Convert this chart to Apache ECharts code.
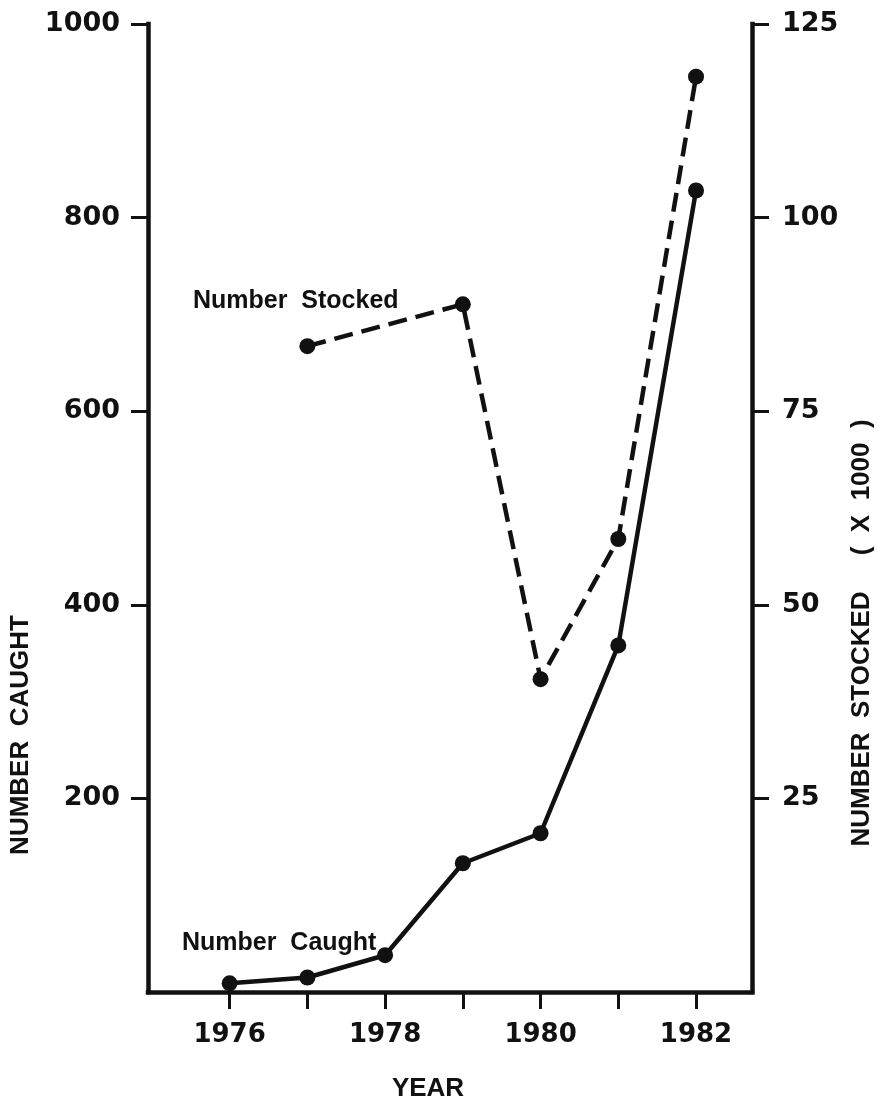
<!DOCTYPE html>
<html>
<head>
<meta charset="utf-8">
<title>Number Caught and Number Stocked, 1976-1982</title>
<script src="https://cdn.jsdelivr.net/npm/echarts@6/dist/echarts.min.js"></script>
<style>
  html, body { margin: 0; padding: 0; background: #ffffff; }
  #chart { width: 878px; height: 1104px; }
</style>
</head>
<body>
<div id="chart"></div>
<script>
// Fish caught per year (left axis)
const caughtYears = [1976, 1977, 1978, 1979, 1980, 1981, 1982];
const caught = [9, 15, 38, 133, 164, 358, 828];

// Fish stocked per year, in thousands (right axis)
const stockedYears = [1977, 1979, 1980, 1981, 1982];
const stocked = [83.4, 88.8, 40.4, 58.5, 118.2];

// Axis ticks and labels
const yearTicks = [1976, 1977, 1978, 1979, 1980, 1981, 1982];
const yearLabels = [1976, 1978, 1980, 1982];
const caughtTicks = [200, 400, 600, 800, 1000];
const stockedTicks = [25, 50, 75, 100, 125];

const INK = '#111111';
const labelFont = 'DejaVu Sans';
const titleFont = 'Liberation Sans';

const chart = echarts.init(document.getElementById('chart'), null, { renderer: 'canvas' });

const axisLine = { show: true, lineStyle: { color: INK, width: 4.5, cap: 'square' } };
const axisTick = (vals) => ({
  show: true, inside: false, length: 17, customValues: vals,
  lineStyle: { color: INK, width: 3 }
});
const plain = (v) => String(v);

chart.setOption({
  backgroundColor: '#ffffff',
  animation: false,
  grid: {
    left: 148, right: 126, top: 24, bottom: 112,
    containLabel: false,
    outerBoundsMode: 'none'
  },
  xAxis: {
    type: 'value',
    min: 1974.95,
    max: 1982.72,
    axisLine: axisLine,
    axisTick: axisTick(yearTicks),
    splitLine: { show: false },
    axisLabel: {
      customValues: yearLabels,
      margin: 30,
      color: INK,
      fontFamily: labelFont,
      fontWeight: 'bold',
      fontSize: 26,
      formatter: plain
    },
    name: 'YEAR',
    nameLocation: 'middle',
    nameGap: 84,
    nameTextStyle: {
      color: INK, fontFamily: titleFont, fontWeight: 'bold', fontSize: 26,
      padding: [0, 44, 0, 0]
    }
  },
  yAxis: [
    {
      type: 'value',
      position: 'left',
      min: 0,
      max: 1000,
      interval: 200,
      axisLine: axisLine,
      axisTick: axisTick(caughtTicks),
      splitLine: { show: false },
      axisLabel: {
        customValues: caughtTicks,
        margin: 28,
        color: INK,
        fontFamily: labelFont,
        fontWeight: 'bold',
        fontSize: 27,
        formatter: plain
      },
      name: 'NUMBER  CAUGHT',
      nameLocation: 'middle',
      nameGap: 110,
      nameTextStyle: {
        color: INK, fontFamily: titleFont, fontWeight: 'bold', fontSize: 26,
        padding: [0, 454, 0, 0]
      }
    },
    {
      type: 'value',
      position: 'right',
      min: 0,
      max: 125,
      interval: 25,
      axisLine: axisLine,
      axisTick: axisTick(stockedTicks),
      splitLine: { show: false },
      axisLabel: {
        customValues: stockedTicks,
        margin: 30,
        color: INK,
        fontFamily: labelFont,
        fontWeight: 'bold',
        fontSize: 27,
        formatter: plain
      },
      name: 'NUMBER  STOCKED     (  X  1000  )',
      nameLocation: 'middle',
      nameGap: 92,
      nameTextStyle: {
        color: INK, fontFamily: titleFont, fontWeight: 'bold', fontSize: 26,
        padding: [0, 250, 0, 0]
      }
    }
  ],
  series: [
    {
      name: 'Number Caught',
      type: 'line',
      yAxisIndex: 0,
      data: caughtYears.map((y, i) => [y, caught[i]]),
      symbol: 'circle',
      symbolSize: 16,
      itemStyle: { color: INK },
      lineStyle: { color: INK, width: 4.5 },
      z: 3
    },
    {
      name: 'Number Stocked',
      type: 'line',
      yAxisIndex: 1,
      data: stockedYears.map((y, i) => [y, stocked[i]]),
      symbol: 'circle',
      symbolSize: 16,
      itemStyle: { color: INK },
      lineStyle: { color: INK, width: 4.5, type: [19, 9] },
      z: 3
    }
  ],
  graphic: [
    {
      type: 'text',
      left: 193,
      top: 289,
      style: {
        text: 'Number  Stocked',
        fill: INK,
        font: 'bold 25px "Liberation Sans"'
      }
    },
    {
      type: 'text',
      left: 182,
      top: 931,
      style: {
        text: 'Number  Caught',
        fill: INK,
        font: 'bold 25px "Liberation Sans"'
      }
    }
  ]
});
</script>
</body>
</html>
